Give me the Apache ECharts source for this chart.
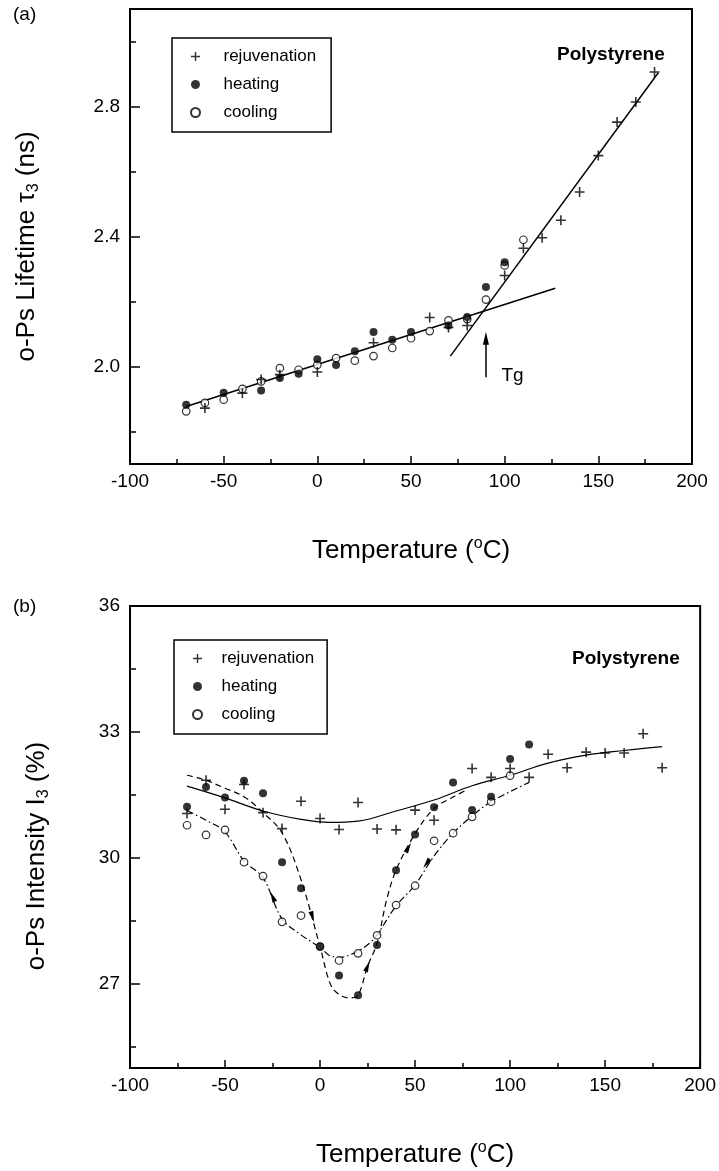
<!DOCTYPE html>
<html>
<head>
<meta charset="UTF-8">
<title>Polystyrene o-Ps lifetime and intensity</title>
<style>
  html, body { margin: 0; padding: 0; background: #fff; }
  #main { width: 719px; height: 1171px; }
</style>
</head>
<body>
<div id="main"></div>
<script src="https://cdn.jsdelivr.net/npm/echarts@6/dist/echarts.min.js"></script>
<script>
// ---- panel (a): o-Ps lifetime tau3 (ns) ----
const tRejA  = [-60, -40, -30, -20, 0, 30, 60, 70, 80, 100, 110, 120, 130, 140, 150, 160, 170, 180];
const tauRej = [1.872, 1.918, 1.96, 1.975, 1.983, 2.073, 2.151, 2.12, 2.126, 2.28, 2.364, 2.396, 2.45, 2.537, 2.649, 2.752, 2.814, 2.906];
const tHeatA  = [-70, -50, -30, -20, -10, 0, 10, 20, 30, 40, 50, 70, 80, 90, 100];
const tauHeat = [1.882, 1.919, 1.926, 1.965, 1.978, 2.022, 2.005, 2.047, 2.106, 2.082, 2.106, 2.126, 2.152, 2.245, 2.321];
const tCoolA  = [-70, -60, -50, -40, -30, -20, -10, 0, 10, 20, 30, 40, 50, 60, 70, 80, 90, 100, 110];
const tauCool = [1.862, 1.888, 1.898, 1.931, 1.954, 1.995, 1.99, 2.005, 2.026, 2.018, 2.032, 2.057, 2.087, 2.109, 2.142, 2.146, 2.206, 2.311, 2.39];
// straight fits below / above Tg
const tFitLow = [-70, 127];
const tauFitLow = [1.877, 2.241];
const tFitHigh = [71, 182];
const tauFitHigh = [2.032, 2.904];
const yLabelsA = ['2.0', '2.4', '2.8'];

// ---- panel (b): o-Ps intensity I3 (%) ----
const tRejB = [-70, -60, -50, -40, -30, -20, -10, 0, 10, 20, 30, 40, 50, 60, 80, 90, 100, 110, 120, 130, 140, 150, 160, 170, 180];
const iRej  = [31.06, 31.85, 31.16, 31.75, 31.08, 30.7, 31.35, 30.94, 30.68, 31.32, 30.69, 30.67, 31.14, 30.9, 32.13, 31.92, 32.13, 31.92, 32.47, 32.15, 32.52, 32.5, 32.5, 32.96, 32.15];
const tHeatB = [-70, -60, -50, -40, -30, -20, -10, 0, 10, 20, 30, 40, 50, 60, 70, 80, 90, 100, 110];
const iHeat  = [31.22, 31.69, 31.44, 31.84, 31.54, 29.9, 29.28, 27.89, 27.2, 26.73, 27.93, 29.71, 30.56, 31.21, 31.8, 31.14, 31.46, 32.36, 32.7];
const tCoolB = [-70, -60, -50, -40, -30, -20, -10, 0, 10, 20, 30, 40, 50, 60, 70, 80, 90, 100];
const iCool  = [30.78, 30.55, 30.67, 29.9, 29.57, 28.48, 28.63, 27.89, 27.56, 27.73, 28.16, 28.88, 29.34, 30.41, 30.59, 30.98, 31.34, 31.96];
// guide curves
const tCurveRej = [-70, -50, -30, -10, 5, 20, 40, 60, 80, 100, 120, 140, 160, 180];
const iCurveRej = [31.71, 31.43, 31.12, 30.92, 30.85, 30.88, 31.12, 31.38, 31.72, 31.97, 32.26, 32.45, 32.56, 32.65];
const tCurveHeat = [-70, -60, -50, -40, -30, -20, -10, 0, 6, 12, 16, 20, 25, 30, 35, 40, 50, 60, 70, 77];
const iCurveHeat = [31.97, 31.85, 31.66, 31.46, 31.08, 30.6, 29.48, 27.89, 26.94, 26.7, 26.67, 26.73, 27.42, 27.97, 29.0, 29.71, 30.58, 31.18, 31.45, 31.62];
const tCurveCool = [-70, -60, -50, -40, -30, -20, -10, 0, 6, 12, 16, 20, 26, 30, 40, 50, 60, 70, 80, 90, 110];
const iCurveCool = [31.13, 30.9, 30.62, 29.93, 29.53, 28.55, 28.17, 27.87, 27.66, 27.64, 27.7, 27.78, 27.97, 28.17, 28.86, 29.36, 30.05, 30.59, 31.0, 31.34, 31.8];
// arrow heads on the guide curves: position and direction (deg)
const arrowHeatT = [-4, 25, 46.5];
const arrowHeatI = [28.6, 27.42, 30.25];
const arrowHeatRot = [196, -21, -28];
const arrowCoolT = [56, -25];
const arrowCoolI = [29.87, 29.08];
const arrowCoolRot = [144, 25];
const yLabelsB = ['27', '30', '33', '36'];

const legendNames = ['rejuvenation', 'heating', 'cooling'];

const FONT = '"Liberation Sans", Arial, Helvetica, sans-serif';
const PLUS = 'path://M0,4.2H10V5.8H0Z M4.2,0H5.8V10H4.2Z';
const pts = (xs, ys) => xs.map((x, i) => [x, ys[i]]);

let myChart = echarts.init(document.getElementById('main'));

function xAxisFor(grid) {
    return {
        gridIndex: grid, type: 'value', min: -100, max: 200, interval: 50,
        axisLine: { show: true, onZero: false, lineStyle: { color: '#000', width: 2 } },
        axisTick: { show: true, inside: true, length: 8, lineStyle: { color: '#000', width: 1.5 } },
        minorTick: { show: true, splitNumber: 2, length: 5, lineStyle: { color: '#000', width: 1.5 } },
        axisLabel: { color: '#000', fontSize: 19, fontFamily: FONT, margin: 8 },
        splitLine: { show: false },
        name: '{t|Temperature (}{s|o}{t|C)}',
        nameLocation: 'middle', nameGap: 72,
        nameTextStyle: {
            color: '#000',
            rich: {
                t: { fontSize: 26, fontFamily: FONT, color: '#000', lineHeight: 30 },
                s: { fontSize: 16, fontFamily: FONT, color: '#000', lineHeight: 16, verticalAlign: 'top' }
            }
        }
    };
}

function yMain(grid, min, max, step, labels, name, gap, shift) {
    return {
        gridIndex: grid, type: 'value', position: 'left', min: min, max: max,
        minInterval: step, maxInterval: step, splitNumber: Math.round((max - min) / step),
        axisLine: { show: true, onZero: false, lineStyle: { color: '#000', width: 2 } },
        axisTick: { show: true, inside: true, length: 6, lineStyle: { color: '#000', width: 1.5 } },
        axisLabel: {
            color: '#000', fontSize: 19, fontFamily: FONT, margin: 10,
            formatter: function (v) {
                const s = labels[0].indexOf('.') >= 0 ? v.toFixed(1) : String(Math.round(v * 100) / 100);
                return labels.indexOf(s) >= 0 ? s : '';
            }
        },
        splitLine: { show: false },
        name: name, nameLocation: 'middle', nameRotate: 90, nameGap: gap,
        nameTextStyle: {
            color: '#000', padding: [0, shift, 0, 0],
            rich: {
                t: { fontSize: 26, fontFamily: FONT, color: '#000', lineHeight: 30 },
                b: { fontSize: 16, fontFamily: FONT, color: '#000', lineHeight: 16, verticalAlign: 'bottom' }
            }
        }
    };
}

// second axis on the same side, only to draw the longer major ticks
function yMajor(grid, min, max, step) {
    return {
        gridIndex: grid, type: 'value', position: 'left', min: min, max: max,
        minInterval: step, maxInterval: step, splitNumber: Math.round((max - min) / step),
        axisLine: { show: false, onZero: false },
        axisTick: { show: true, inside: true, length: 10, lineStyle: { color: '#000', width: 1.5 } },
        axisLabel: { show: false },
        splitLine: { show: false }
    };
}

function legendFor(left, top, padding, textShift) {
    return {
        left: left, top: top, orient: 'vertical', data: legendNames, selectedMode: false,
        backgroundColor: '#fff', borderColor: '#000', borderWidth: 1.5, borderRadius: 0,
        padding: padding, itemGap: 11, itemWidth: 10, itemHeight: 9,
        textStyle: { color: '#000', fontSize: 17, fontFamily: FONT, lineHeight: 17, padding: [0, 0, 0, textShift] }
    };
}

function points(name, xi, yi, data) {
    const s = { name: name, type: 'scatter', xAxisIndex: xi, yAxisIndex: yi, data: data, silent: true, z: 5 };
    if (name === 'rejuvenation') {
        s.symbol = PLUS; s.symbolSize = 10; s.itemStyle = { color: '#000' }; s.z = 6;
    } else if (name === 'heating') {
        s.symbol = 'circle'; s.symbolSize = 8; s.itemStyle = { color: '#000' };
    } else {
        s.symbol = 'circle'; s.symbolSize = 7.5; s.itemStyle = { color: '#fff', borderColor: '#000', borderWidth: 1.2 };
    }
    return s;
}

function curve(xi, yi, data, dash, smooth) {
    return {
        type: 'line', xAxisIndex: xi, yAxisIndex: yi, data: data, silent: true,
        showSymbol: false, symbol: 'none', smooth: smooth, z: 3,
        lineStyle: { color: '#000', width: 1.2, type: dash }
    };
}

function arrowHeads(ts, is, rots) {
    return {
        silent: true, symbol: 'triangle', symbolSize: [5, 11],
        itemStyle: { color: '#000' }, label: { show: false },
        data: ts.map((t, i) => ({ coord: [t, is[i]], symbolRotate: rots[i] }))
    };
}

const lowFit = curve(0, 0, pts(tFitLow, tauFitLow), 'solid', false);
lowFit.lineStyle.width = 1.5;
// Tg arrow
lowFit.markLine = {
    silent: true, symbol: ['none', 'none'],
    lineStyle: { color: '#000', width: 1.5, type: 'solid' }, label: { show: false },
    data: [[{ coord: [90, 1.967] }, { coord: [90, 2.09] }]]
};
lowFit.markPoint = {
    silent: true,
    data: [
        { coord: [90, 2.087], symbol: 'triangle', symbolSize: [6, 13], itemStyle: { color: '#000' }, label: { show: false } },
        {
            coord: [98, 1.972], symbol: 'circle', symbolSize: 1, itemStyle: { color: 'transparent' },
            label: { show: true, position: 'right', distance: 0, formatter: 'Tg', color: '#000', fontSize: 19, fontFamily: FONT }
        }
    ]
};
const highFit = curve(0, 0, pts(tFitHigh, tauFitHigh), 'solid', false);
highFit.lineStyle.width = 1.5;

const heatCurve = curve(1, 2, pts(tCurveHeat, iCurveHeat), [6, 4], 0.35);
heatCurve.markPoint = arrowHeads(arrowHeatT, arrowHeatI, arrowHeatRot);
const coolCurve = curve(1, 2, pts(tCurveCool, iCurveCool), [7, 3, 1.5, 3], 0.35);
coolCurve.markPoint = arrowHeads(arrowCoolT, arrowCoolI, arrowCoolRot);

myChart.setOption({
    backgroundColor: '#fff',
    animation: false,
    textStyle: { fontFamily: FONT },
    grid: [
        { left: 130, top: 9, right: 27, bottom: 707, show: true, borderColor: '#000', borderWidth: 2, backgroundColor: 'transparent' },
        { left: 130, top: 606, right: 16, bottom: 103, show: true, borderColor: '#000', borderWidth: 2, backgroundColor: 'transparent' }
    ],
    xAxis: [xAxisFor(0), xAxisFor(1)],
    yAxis: [
        yMain(0, 1.7, 3.1, 0.2, yLabelsA, '{t|o-Ps Lifetime τ}{b|3}{t| (ns)}', 88, 20),
        yMajor(0, 1.7, 3.1, 0.4),
        yMain(1, 25, 36, 1.5, yLabelsB, '{t|o-Ps Intensity I}{b|3}{t| (%)}', 78, 38),
        yMajor(1, 25, 36, 3)
    ],
    legend: [
        legendFor(172, 38, [10, 15, 11, 18], 18),
        legendFor(174, 640, [10, 13, 11, 18], 14)
    ],
    graphic: [
        { type: 'text', x: 13, y: 15, style: { text: '(a)', font: '19px ' + FONT, fill: '#000', verticalAlign: 'middle' } },
        { type: 'text', x: 13, y: 607, style: { text: '(b)', font: '19px ' + FONT, fill: '#000', verticalAlign: 'middle' } },
        { type: 'text', x: 557, y: 55, style: { text: 'Polystyrene', font: 'bold 19px ' + FONT, fill: '#000', verticalAlign: 'middle' } },
        { type: 'text', x: 572, y: 659, style: { text: 'Polystyrene', font: 'bold 19px ' + FONT, fill: '#000', verticalAlign: 'middle' } }
    ],
    series: [
        lowFit,
        highFit,
        points('cooling', 0, 0, pts(tCoolA, tauCool)),
        points('heating', 0, 0, pts(tHeatA, tauHeat)),
        points('rejuvenation', 0, 0, pts(tRejA, tauRej)),

        curve(1, 2, pts(tCurveRej, iCurveRej), 'solid', 0.4),
        heatCurve,
        coolCurve,
        points('cooling', 1, 2, pts(tCoolB, iCool)),
        points('heating', 1, 2, pts(tHeatB, iHeat)),
        points('rejuvenation', 1, 2, pts(tRejB, iRej))
    ]
});
</script>
</body>
</html>
